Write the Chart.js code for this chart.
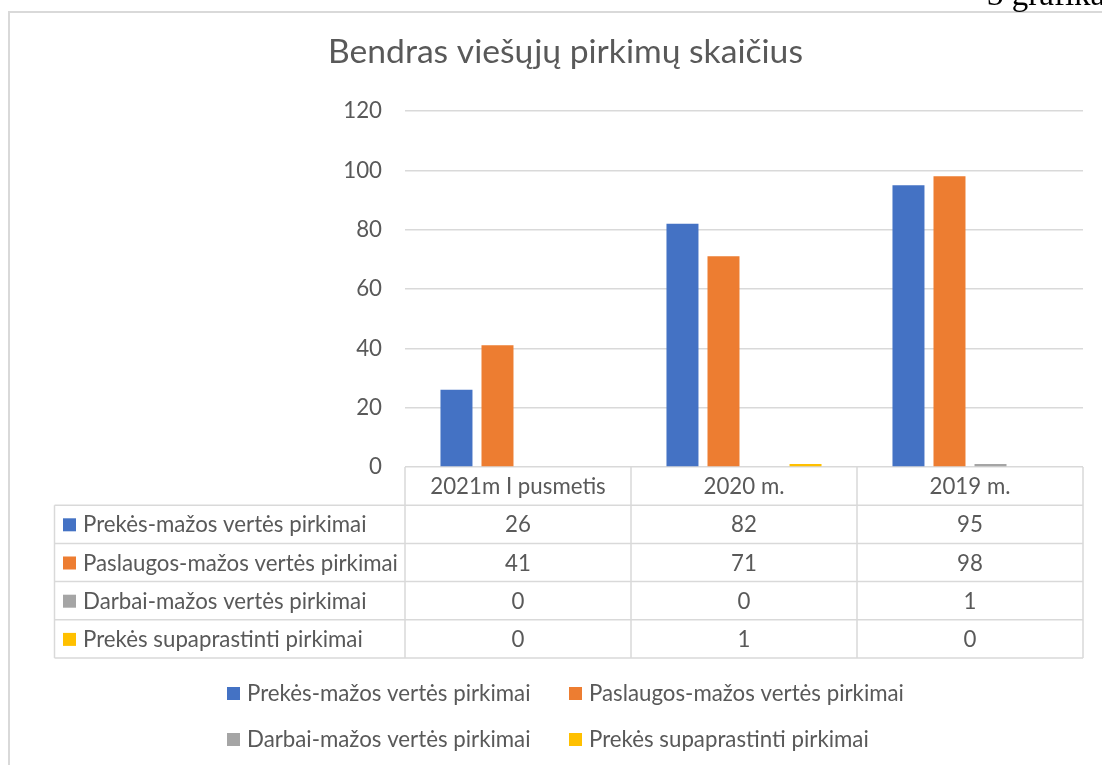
<!DOCTYPE html>
<html>
<head>
    <meta http-equiv="Content-Type" content="text/html; charset=UTF-8">
    <title>Bendras viešųjų pirkimų skaičius</title>
    <script src="https://cdn.jsdelivr.net/npm/chart.js@4.4.0/dist/chart.umd.min.js"></script>
    <style>
        html, body { margin: 0; padding: 0; background: #ffffff; }
        #wrap { width: 1102px; height: 765px; position: relative; }
    </style>
</head>
<body>
    <div id="wrap"><canvas id="myBarChart"></canvas></div>

    <script>
        // duomenys
        const categories = ['2021m I pusmetis', '2020 m.', '2019 m.'];
        const seriesNames = [
            'Prekės-mažos vertės pirkimai',
            'Paslaugos-mažos vertės pirkimai',
            'Darbai-mažos vertės pirkimai',
            'Prekės supaprastinti pirkimai'
        ];
        const prekesMazos = [26, 82, 95];
        const paslaugosMazos = [41, 71, 98];
        const darbaiMazos = [0, 0, 1];
        const prekesSupaprastinti = [0, 1, 0];
        const yTicks = [0, 20, 40, 60, 80, 100, 120];

        const colors = ['#4472C4', '#ED7D31', '#A5A5A5', '#FFC000'];
        const textColor = '#595959';
        const lineColor = '#d9d9d9';
        const family = 'Lato, "Open Sans", sans-serif';

        // šrifto dydis pagal pavyzdinio teksto plotį
        function fitSize(text, width, fam) {
            const c = document.createElement('canvas').getContext('2d');
            c.font = '100px ' + fam;
            return 100 * width / c.measureText(text).width;
        }
        const baseSize = fitSize('Paslaugos-mažos vertės pirkimai', 315, family);
        const titleSize = fitSize('Bendras viešųjų pirkimų skaičius', 475, family);

        const tablePlugin = {
            id: 'tablePlugin',
            afterDraw(chart) {
                const ctx = chart.ctx;
                const area = chart.chartArea;
                const x = chart.scales.x;
                ctx.save();

                // rėmelis
                ctx.strokeStyle = lineColor;
                ctx.lineWidth = 2;
                ctx.beginPath();
                ctx.moveTo(9, 765);
                ctx.lineTo(9, 12);
                ctx.lineTo(1102, 12);
                ctx.stroke();

                // "3 grafikas"
                ctx.fillStyle = '#000000';
                ctx.font = '33px "Liberation Serif", "DejaVu Serif", serif';
                ctx.textAlign = 'left';
                ctx.textBaseline = 'alphabetic';
                ctx.fillText('3 grafikas', 987, 5);

                // pavadinimas
                ctx.fillStyle = textColor;
                ctx.font = titleSize.toFixed(2) + 'px ' + family;
                ctx.textAlign = 'center';
                ctx.fillText('Bendras viešųjų pirkimų skaičius', 565.5, 63);

                // duomenų lentelė
                const n = categories.length;
                const bounds = [area.left];
                for (let i = 1; i < n; i++) {
                    bounds.push((x.getPixelForValue(i - 1) + x.getPixelForValue(i)) / 2);
                }
                bounds.push(area.right);
                const top = area.bottom;
                const rowH = 38.2;
                const left = 54.5;
                const rows = chart.data.datasets.length;
                const bottom = top + rowH * (rows + 1);

                ctx.strokeStyle = lineColor;
                ctx.lineWidth = 1.5;
                ctx.beginPath();
                for (let r = 1; r <= rows + 1; r++) {
                    const yy = top + rowH * r;
                    ctx.moveTo(left, yy);
                    ctx.lineTo(area.right, yy);
                }
                ctx.moveTo(left, top + rowH);
                ctx.lineTo(left, bottom);
                bounds.forEach(b => {
                    ctx.moveTo(b, top);
                    ctx.lineTo(b, bottom);
                });
                ctx.stroke();

                ctx.font = baseSize.toFixed(2) + 'px ' + family;
                ctx.fillStyle = textColor;
                ctx.textBaseline = 'middle';
                ctx.textAlign = 'center';
                categories.forEach((c, i) => {
                    ctx.fillText(c, x.getPixelForValue(i), top + rowH / 2 + 1);
                });
                chart.data.datasets.forEach((ds, r) => {
                    const cy = top + rowH * (r + 1.5) + 1;
                    ctx.fillStyle = ds.backgroundColor;
                    ctx.fillRect(63, cy - 7, 13, 13);
                    ctx.fillStyle = textColor;
                    ctx.textAlign = 'left';
                    ctx.fillText(ds.label, 83, cy);
                    ctx.textAlign = 'center';
                    ds.data.forEach((v, i) => {
                        ctx.fillText(String(v), x.getPixelForValue(i), cy);
                    });
                });

                // legenda
                const items = Chart.defaults.plugins.legend.labels.generateLabels(chart);
                const colX = [227, 569];
                const rowY = [694, 740];
                items.forEach((it, k) => {
                    const lx = colX[k % 2];
                    const ly = rowY[Math.floor(k / 2)];
                    ctx.fillStyle = it.fillStyle;
                    ctx.fillRect(lx, ly - 7, 13, 13);
                    ctx.fillStyle = textColor;
                    ctx.textAlign = 'left';
                    ctx.fillText(it.text, lx + 20, ly);
                });

                ctx.restore();
            }
        };

        const seriesValues = [prekesMazos, paslaugosMazos, darbaiMazos, prekesSupaprastinti];

        new Chart(document.getElementById('myBarChart'), {
            type: 'bar',
            data: {
                labels: categories,
                datasets: seriesValues.map((vals, i) => ({
                    label: seriesNames[i],
                    data: vals,
                    backgroundColor: colors[i],
                    borderWidth: 0,
                    categoryPercentage: 0.726,
                    barPercentage: 0.78
                }))
            },
            options: {
                responsive: true,
                maintainAspectRatio: false,
                devicePixelRatio: 1,
                animation: false,
                layout: {
                    padding: { top: 111, bottom: 298, left: 0, right: 19 }
                },
                plugins: {
                    legend: { display: false },
                    title: { display: false },
                    tooltip: { enabled: false }
                },
                scales: {
                    x: {
                        display: false
                    },
                    y: {
                        min: 0,
                        max: 120,
                        afterFit(scale) { scale.width = 405; },
                        afterBuildTicks(scale) { scale.ticks = yTicks.map(v => ({ value: v })); },
                        border: { display: false },
                        grid: { color: lineColor, lineWidth: 1.5, drawTicks: false },
                        ticks: {
                            padding: 23,
                            color: textColor,
                            font: { family: 'Lato', size: Math.round(baseSize * 10) / 10 }
                        }
                    }
                }
            },
            plugins: [tablePlugin]
        });
    </script>
</body>
</html>
